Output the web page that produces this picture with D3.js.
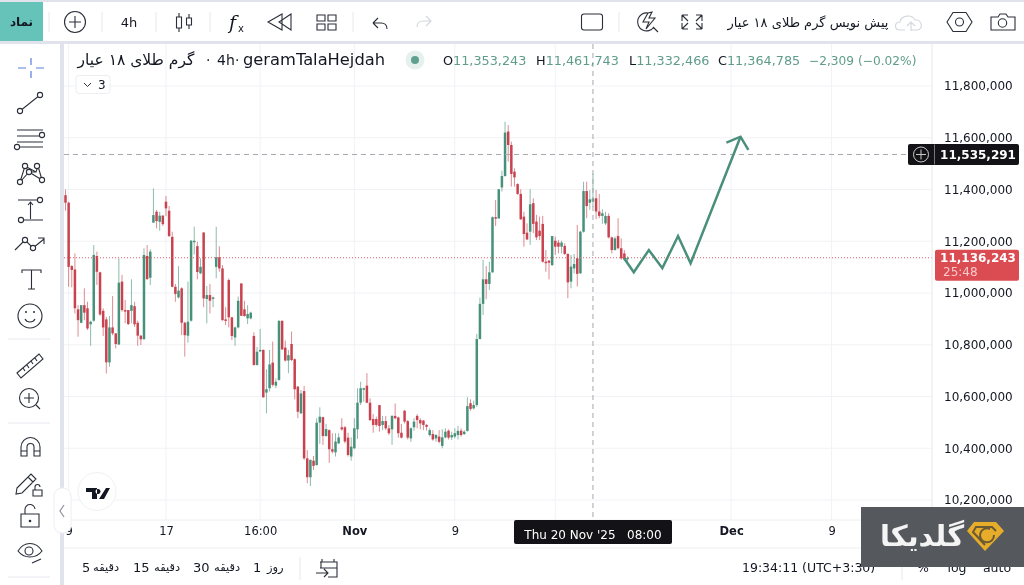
<!DOCTYPE html>
<html><head><meta charset="utf-8">
<script src="https://cdn.jsdelivr.net/npm/d3@7/dist/d3.min.js"></script>
<style>
html,body{margin:0;padding:0;background:#fff;overflow:hidden}
svg{display:block;filter:blur(0.4px)}
text{font-family:"DejaVu Sans",sans-serif;fill:#131722}
</style></head><body><svg id="c" width="1024" height="585"></svg>
<script>
// prices in thousands
const candleOpen=[11378,11349,11104,11091,10937,10885,10953,10941,10879,10893,
11143,11080,10931,10898,10732,10867,10844,10801,11044,10934,
10934,10931,10949,10885,10835,10822,11143,11059,11272,11314,
11275,11299,11353,11318,11217,11024,10983,11018,10885,10835,
10893,11199,11181,11076,11234,10977,10992,10980,11101,11138,
11095,10898,11050,10906,10828,10867,11037,10937,10902,10902,
10834,10722,10776,10780,10615,10632,10731,10642,10664,10892,
10789,10739,10803,10744,10638,10535,10621,10361,10288,10352,
10335,10499,10520,10447,10470,10396,10384,10419,10481,10481,
10441,10368,10400,10473,10576,10628,10642,10576,10513,10513,
10567,10490,10505,10477,10473,10525,10519,10460,10545,10505,
10438,10481,10525,10509,10507,10490,10451,10455,10438,10445,
10409,10442,10468,10442,10445,10451,10468,10455,10467,10574,
10554,10567,10822,10958,11053,11035,11080,11293,11288,11408,
11452,11624,11572,11469,11421,11383,11295,11233,11237,11347,
11276,11241,11267,11121,11125,11108,11202,11195,11179,11182,
11151,11044,11095,11134,11076,11237,11394,11349,11353,11366,
11315,11298,11269,11298,11215,11166,11220,11173,11153,11131];
const candleHigh=[11400,11353,11108,11153,10953,10953,11018,10966,10893,11185,
11160,11082,10941,10908,10911,10988,10844,11134,11070,10973,
10934,11053,10966,10893,10838,11173,11185,11169,11404,11321,
11314,11301,11375,11336,11237,11035,11104,11022,10889,11044,
11205,11256,11198,11134,11234,11027,11035,10986,11256,11181,
11108,10945,11056,10908,10870,10986,11037,10970,10953,10928,
10848,10792,10861,10782,10705,10780,10812,10670,10896,10896,
10816,10780,10851,10748,10641,10625,10641,10393,10357,10370,
10516,10558,10522,10494,10473,10458,10458,10458,10516,10486,
10460,10442,10516,10632,10657,10634,10690,10593,10532,10522,
10567,10525,10525,10490,10528,10573,10522,10494,10548,10509,
10481,10516,10532,10516,10509,10494,10477,10470,10455,10470,
10473,10477,10473,10464,10477,10486,10477,10470,10597,10589,
10584,10842,10983,11128,11104,11121,11296,11359,11401,11473,
11662,11649,11585,11482,11424,11401,11314,11269,11401,11366,
11302,11295,11298,11166,11128,11220,11218,11205,11202,11192,
11153,11147,11151,11263,11241,11430,11430,11398,11462,11398,
11383,11324,11314,11308,11218,11218,11289,11211,11166,11142];
const candleLow=[11318,11024,11022,10921,10831,10883,10895,10857,10796,10889,
11031,10912,10834,10689,10715,10837,10786,10799,10928,10883,
10876,10883,10869,10796,10799,10818,11050,11031,11272,11250,
11241,11259,11297,11217,11022,10966,10979,10837,10754,10808,
10889,11149,11053,11073,10945,10883,10921,10945,11057,11082,
10893,10876,10867,10818,10796,10863,10911,10909,10880,10898,
10719,10719,10773,10595,10535,10619,10638,10632,10661,10780,
10735,10690,10737,10589,10516,10532,10355,10265,10254,10316,
10333,10417,10413,10445,10344,10380,10368,10416,10468,10419,
10368,10352,10396,10436,10567,10580,10574,10505,10460,10483,
10464,10470,10470,10451,10413,10512,10441,10438,10496,10434,
10425,10468,10477,10473,10470,10468,10445,10429,10425,10419,
10400,10438,10434,10432,10438,10434,10445,10451,10464,10545,
10550,10560,10821,10915,10976,11012,11078,11259,11288,11392,
11450,11508,11411,11411,11379,11282,11179,11205,11186,11231,
11205,11205,11117,11082,11053,11104,11147,11153,11153,11147,
10980,11018,11076,11025,11074,11233,11289,11321,11332,11285,
11289,11267,11263,11211,11153,11164,11169,11128,11125,11120];
const candleClose=[11349,11101,11089,10941,10895,10953,10924,10863,10889,11147,
11082,10917,10867,10732,10867,10844,10803,11040,10934,10931,
10880,10953,10879,10835,10821,11147,11054,11160,11301,11278,
11299,11266,11327,11220,11024,10996,11009,10885,10837,10889,
11202,11202,11081,11101,10979,10992,10970,10983,11138,11095,
10895,10893,10906,10834,10867,10970,10912,10911,10919,10924,
10722,10773,10780,10597,10628,10724,10645,10657,10892,10782,
10739,10760,10741,10628,10541,10612,10361,10288,10355,10332,
10499,10522,10447,10474,10396,10387,10426,10442,10473,10426,
10374,10406,10477,10576,10632,10632,10576,10509,10490,10490,
10486,10505,10477,10458,10525,10516,10458,10441,10503,10441,
10477,10503,10509,10496,10490,10483,10470,10434,10451,10425,
10442,10464,10441,10451,10458,10467,10451,10464,10563,10552,
10567,10822,10958,11053,11035,11080,11293,11288,11401,11452,
11620,11572,11460,11447,11383,11285,11228,11207,11343,11267,
11215,11220,11121,11115,11117,11220,11179,11179,11195,11151,
11041,11102,11112,11074,11237,11394,11336,11362,11365,11315,
11298,11308,11298,11215,11166,11211,11173,11134,11131,11136];
const priceTicks=[10200,10400,10600,10800,11000,11200,11400,11600,11800];
const timeTickBars=[1,32,62,92,124,156,212,244,276];
const timeTickLabels=["9","17","16:00","Nov","9","","Dec","9",""];
const arrowBars=[177.9,181,185.8,190.1,195.1,199.1,215];
const arrowPrices=[11134,11080,11166,11096,11220,11115,11604];
const arrowHeadBars=[210.5,215,217.5];
const arrowHeadPrices=[11581,11604,11553];
const crossBar=168, crossPrice=11535.291, lastPrice=11136.243;
const legendValues=[["O","11,353,243"],["H","11,461,743"],["L","11,332,466"],["C","11,364,785"]];
const legendChange="−2,309 (−0.02%)";
const rangeButtons=[["5","دقیقه"],["15","دقیقه"],["30","دقیقه"],["1","روز"]];

const UP="#47917a",DOWN="#c8434f",INK="#2a2e39";
const svg=d3.select("#c");
const x=d3.scaleLinear().domain([0,179]).range([65.5,627.5]);
const y=d3.scaleLinear().domain([10200,11800]).range([500,86]);

// frame
svg.append("rect").attr("x",0).attr("y",0).attr("width",1024).attr("height",585).attr("fill","#fff");
const frame=[[0,0,1024,2],[0,41,1024,3],[60,44,4,541]];
svg.selectAll(null).data(frame).join("rect").attr("x",d=>d[0]).attr("y",d=>d[1]).attr("width",d=>d[2]).attr("height",d=>d[3]).attr("fill","#e0e3eb");
svg.append("rect").attr("x",0).attr("y",2).attr("width",43).attr("height",39).attr("fill","#66c3b9");
svg.append("text").attr("x",21.5).attr("y",26).attr("text-anchor","middle").attr("font-size",12).attr("font-weight","bold").text("نماد");

// grid
const plot=svg.append("g");
plot.selectAll(".gv").data(timeTickBars).join("line").attr("x1",d=>x(d)).attr("x2",d=>x(d)).attr("y1",44).attr("y2",520).attr("stroke","#f1f2f5");
plot.selectAll(".gh").data(priceTicks).join("line").attr("x1",64).attr("x2",932).attr("y1",d=>y(d)).attr("y2",d=>y(d)).attr("stroke","#f1f2f5");

// candles
const bars=d3.range(candleOpen.length);
const color=i=>candleClose[i]>=candleOpen[i]?UP:DOWN;
plot.selectAll(".w").data(bars).join("line").attr("x1",i=>x(i)).attr("x2",i=>x(i))
 .attr("y1",i=>y(candleHigh[i])).attr("y2",i=>y(candleLow[i])).attr("stroke",color).attr("stroke-width",1).attr("stroke-opacity",.62);
plot.selectAll(".b").data(bars).join("rect").attr("x",i=>x(i)-1.25).attr("width",2.5)
 .attr("y",i=>y(Math.max(candleOpen[i],candleClose[i])))
 .attr("height",i=>Math.max(1.5,Math.abs(y(candleOpen[i])-y(candleClose[i])))).attr("fill",color);

// price lines
plot.append("line").attr("x1",64).attr("x2",934).attr("y1",y(lastPrice)).attr("y2",y(lastPrice)).attr("stroke","#d9616a").attr("stroke-dasharray","1 2");
plot.append("line").attr("x1",64).attr("x2",908).attr("y1",y(crossPrice)).attr("y2",y(crossPrice)).attr("stroke","#a6a8b0").attr("stroke-dasharray","5 4");
plot.append("line").attr("x1",x(crossBar)).attr("x2",x(crossBar)).attr("y1",44).attr("y2",520).attr("stroke","#a6a8b0").attr("stroke-dasharray","5 4");

// drawn arrow
const ln=d3.line().x(d=>x(d[0])).y(d=>y(d[1]));
plot.append("path").attr("d",ln(d3.zip(arrowBars,arrowPrices))).attr("fill","none").attr("stroke","#4a8f7b").attr("stroke-width",2.5);
plot.append("path").attr("d",ln(d3.zip(arrowHeadBars,arrowHeadPrices))).attr("fill","none").attr("stroke","#4a8f7b").attr("stroke-width",2.5);

// axes
const ya=d3.axisRight(y).tickValues(priceTicks).tickFormat(d=>d3.format(",")(d*1000)).tickSize(0).tickPadding(0);
const gy=svg.append("g").attr("transform","translate(944,0)").call(ya);
gy.select(".domain").remove();
gy.selectAll("text").attr("font-size",12).attr("fill",INK).style("font-family","DejaVu Sans");
const xa=d3.axisBottom(x).tickValues(timeTickBars).tickFormat((d,i)=>timeTickLabels[i]).tickSize(0).tickPadding(0);
const gx=svg.append("g").attr("transform","translate(0,527)").call(xa);
gx.select(".domain").remove();
gx.selectAll("text").attr("font-size",11.5).attr("fill",INK).style("font-family","DejaVu Sans")
 .attr("font-weight",(d,i)=>timeTickLabels[i]=="Nov"||timeTickLabels[i]=="Dec"?"bold":"normal");
// cover clipped region left of chart
svg.append("rect").attr("x",0).attr("y",520).attr("width",64).attr("height",30).attr("fill","#fff");
svg.append("rect").attr("x",60).attr("y",520).attr("width",4).attr("height",30).attr("fill","#e0e3eb");
svg.selectAll(".sep").data([[64,520,1024,520],[64,548,1024,548],[932,44,932,520]]).join("line").attr("x1",d=>d[0]).attr("y1",d=>d[1]).attr("x2",d=>d[2]).attr("y2",d=>d[3]).attr("stroke","#eceef2");

// axis labels
function tag(px,py,w,h,fill){return svg.append("rect").attr("x",px).attr("y",py).attr("width",w).attr("height",h).attr("rx",2).attr("fill",fill);}
tag(514,520,158,24,"#131317");
svg.append("text").attr("x",593).attr("y",539).attr("text-anchor","middle").attr("font-size",12).attr("xml:space","preserve").style("fill","#fff").text("Thu 20 Nov '25   08:00");
const cy=y(crossPrice);
tag(908,cy-10.5,111,21,"#131317");
svg.append("line").attr("x1",934.5).attr("x2",934.5).attr("y1",cy-10).attr("y2",cy+10).attr("stroke","#777");
svg.append("circle").attr("cx",921).attr("cy",cy).attr("r",7.5).attr("fill","none").attr("stroke","#ccc");
svg.append("path").attr("d",`M916,${cy}H926M921,${cy-5}V${cy+5}`).attr("stroke","#ccc");
svg.append("text").attr("x",978).attr("y",cy+4.5).attr("text-anchor","middle").attr("font-size",12).attr("font-weight","bold").style("fill","#fff").text(d3.format(",")(Math.round(crossPrice*1000)));
const ly=y(lastPrice);
tag(935,ly-8,84,31,"#da4b52");
svg.append("text").attr("x",978).attr("y",ly+4).attr("text-anchor","middle").attr("font-size",12).attr("font-weight","bold").style("fill","#fff").text(d3.format(",")(Math.round(lastPrice*1000)));
svg.append("text").attr("x",943).attr("y",ly+18).attr("font-size",12).style("fill","#f7c9cc").text("25:48");

// legend
svg.append("text").attr("x",136).attr("y",65).attr("text-anchor","middle").attr("font-size",15.5).attr("direction","rtl").text("گرم طلای ۱۸ عیار");
svg.append("text").attr("x",206).attr("y",65).attr("font-size",14).text("·");
svg.append("text").attr("x",217).attr("y",65).attr("font-size",14).text("4h");
svg.append("text").attr("x",235).attr("y",65).attr("font-size",14).text("·");
svg.append("text").attr("x",243).attr("y",65).attr("font-size",16.3).text("geramTalaHejdah");
svg.append("circle").attr("cx",415).attr("cy",60).attr("r",9.5).attr("fill","#e6f0ed");
svg.append("circle").attr("cx",415).attr("cy",60).attr("r",4).attr("fill","#5fa18e");
const lx=[443,536,629,718];
legendValues.forEach((d,i)=>{
 const t=svg.append("text").attr("x",lx[i]).attr("y",65).attr("font-size",12.8);
 t.append("tspan").text(d[0]);
 t.append("tspan").style("fill","#5f9d8a").text(d[1]);
});
svg.append("text").attr("x",809).attr("y",65).attr("font-size",12.2).style("fill","#5f9d8a").text(legendChange);
svg.append("rect").attr("x",76).attr("y",75.5).attr("width",34).attr("height",18).attr("rx",3).attr("fill","#fff").attr("stroke","#eceef2");
svg.append("path").attr("d","M84,83l3.5,3.5l3.5,-3.5").attr("fill","none").attr("stroke",INK);
svg.append("text").attr("x",98).attr("y",89).attr("font-size",12).text("3");

// top toolbar
const sk=(d,c=INK,w=1.1)=>svg.append("path").attr("d",d).attr("fill","none").attr("stroke",c).attr("stroke-width",w);
svg.selectAll(".tsep").data([49,102,156,210,353,619]).join("line").attr("x1",d=>d).attr("x2",d=>d).attr("y1",12).attr("y2",32).attr("stroke","#e6e8ee");
svg.append("circle").attr("cx",75).attr("cy",22).attr("r",10.5).attr("fill","none").attr("stroke",INK).attr("stroke-width",1.1);
sk("M69,22H81M75,16V28");
svg.append("text").attr("x",129).attr("y",27).attr("text-anchor","middle").attr("font-size",13).attr("font-weight","500").text("4h");
sk("M176.5,17h5v11h-5zM179,13v4M179,28v4M186.5,18h5v7h-5zM189,14v4M189,25v4");
svg.append("text").attr("x",229).attr("y",29).attr("font-size",19).style("font-family","DejaVu Serif").attr("font-style","italic").text("f");
svg.append("text").attr("x",238).attr("y",32).attr("font-size",10).text("x");
sk("M282,14L268,22L282,30ZM291,14L279,22L291,30Z");
sk("M317,15h8v6h-8zM328,15h8v6h-8zM317,24h8v6h-8zM328,24h8v6h-8z");
sk("M373,23H381c4,0 6,2 6,6M373,23l5,-5M373,23l5,5");
sk("M431,21H423c-4,0 -6,2 -6,6M431,21l-5,-5M431,21l-5,5","#d3d6dd");
svg.append("rect").attr("x",581.5).attr("y",14).attr("width",21).attr("height",16).attr("rx",2.5).attr("fill","none").attr("stroke",INK).attr("stroke-width",1.1);
sk("M648,13a9,9 0 1 0 6,14M653,27l5,5M648,13l-5,9h6l-3,7l9,-11h-6l3,-6z");
sk("M682,15h6M682,15v6M682,15l6,6M702,15h-6M702,15v6M702,15l-6,6M682,29h6M682,29v-6M682,29l6,-6M702,29h-6M702,29v-6M702,29l-6,-6");
svg.append("text").attr("x",808).attr("y",27).attr("text-anchor","middle").attr("font-size",13).attr("direction","rtl").text("پیش نویس گرم طلای ۱۸ عیار");
sk("M905,30h-5c-6,0 -6,-8 0,-8c1,-7 12,-8 15,-2c7,-1 9,10 2,10h-6M911,31v-8M907,26l4,-4l4,4","#d3d6dd");
sk("M947,22l6,-9.5h13l6,9.5l-6,9.5h-13z");
svg.append("circle").attr("cx",959.5).attr("cy",22).attr("r",4).attr("fill","none").attr("stroke",INK).attr("stroke-width",1.1);
sk("M991,17h7l2,-3h6l2,3h7v13h-24z");
svg.append("circle").attr("cx",1002.5).attr("cy",23).attr("r",4.2).attr("fill","none").attr("stroke",INK).attr("stroke-width",1.1);

// left toolbar
sk("M31,58v7M31,71v7M18,68h8M36,68h8","#5a7fd6",1.2);
function dot(a,b){svg.append("circle").attr("cx",a).attr("cy",b).attr("r",2.6).attr("fill","#fff").attr("stroke",INK).attr("stroke-width",1.1);}
sk("M20,111L40,95");dot(20,111);dot(40,95);
sk("M17,130h26M17,136h24M17,142h26M17,147h26");dot(42,135);dot(17,147);
sk("M20,182L25,166L36,172L38,166L42,180M25,166L29,172L20,182M36,172L29,172L42,180");dot(20,182);dot(25,166);dot(37,166);dot(42,180);dot(29,172);
sk("M18,200h22M21,220h22M30.5,219V202M28,205l2.5,-3l2.5,3");dot(40,200);dot(21,220);
sk("M15,250L25,240L33,248L44,239M38,238h6v6");dot(25,240);dot(33,248);
sk("M22,273v-3h19v3M31.5,270V289M28,289h7");
svg.append("circle").attr("cx",30).attr("cy",316).attr("r",12).attr("fill","none").attr("stroke",INK).attr("stroke-width",1.1);
sk("M25,319c2,4 8,4 10,0");
svg.selectAll(".eye").data([26,34]).join("circle").attr("cx",d=>d).attr("cy",312).attr("r",1).attr("fill",INK);
svg.selectAll(".lsep").data([339,423,577]).join("line").attr("x1",8).attr("x2",50).attr("y1",d=>d).attr("y2",d=>d).attr("stroke","#e6e8ee");
sk("M17,373L39,354L43,359L21,378ZM23,368l2,3M27,365l2,3M31,361l2,3M35,358l2,3");
svg.append("circle").attr("cx",29).attr("cy",398).attr("r",9.5).attr("fill","none").attr("stroke",INK).attr("stroke-width",1.1);
sk("M24,398h10M29,393v10M36,405l4,4");
sk("M21,456V447a9.5,9.5 0 0 1 19,0V456h-6V447a3.5,3.5 0 0 0 -7,0V456ZM21,451h6M34,451h6");
sk("M17,488L31,474L36,479L22,493L16,494ZM28,477l5,5M33,490h9v6h-9zM35,490v-3a2.5,2.5 0 0 1 5,0");
sk("M21,514h18v13h-18zM25,514v-4a5,5 0 0 1 10,-1");
svg.append("circle").attr("cx",30).attr("cy",521).attr("r",1.3).attr("fill",INK);
sk("M18,551c6,-10 18,-10 24,0c-6,8 -18,8 -24,0z");
svg.append("circle").attr("cx",29).attr("cy",551).attr("r",4).attr("fill","none").attr("stroke",INK).attr("stroke-width",1.1);
sk("M32,563l9,-4");

// collapse tab, logo
svg.append("rect").attr("x",54).attr("y",488).attr("width",17).attr("height",45).attr("rx",8).attr("fill","#fff").attr("stroke","#eceef2");
sk("M64,505l-4,6l4,6","#9598a1",1.3);
svg.append("circle").attr("cx",97).attr("cy",491.5).attr("r",19).attr("fill","#fff").attr("stroke","#f0f1f3");
svg.append("path").attr("d","M86,488h11v11h-5v-7h-6zM98,489a2.5,2.5 0 1 0 0.01,0M106,488h4l-6,11h-5z").attr("fill","#131722");

// bottom toolbar
rangeButtons.forEach((d,i)=>{
 const xs=[[82,93],[133,154],[193,214],[253,267]][i];
 svg.append("text").attr("x",xs[0]).attr("y",572).attr("font-size",13).text(d[0]);
 svg.append("text").attr("x",xs[1]).attr("y",571).attr("font-size",11.5).text(d[1]);
});
svg.append("line").attr("x1",300).attr("x2",300).attr("y1",557).attr("y2",580).attr("stroke","#e6e8ee");
sk("M320,562h17v15h-9M321,562v6M322,559v3M334,559v3M320,568h17M316,573h12M324,569l4,4l-4,4");
svg.append("text").attr("x",742).attr("y",572).attr("font-size",12.5).text("19:34:11 (UTC+3:30)");
svg.append("line").attr("x1",902).attr("x2",902).attr("y1",557).attr("y2",580).attr("stroke","#e6e8ee");
svg.append("text").attr("x",923).attr("y",572).attr("text-anchor","middle").attr("font-size",12.5).text("%");
svg.append("text").attr("x",957).attr("y",572).attr("text-anchor","middle").attr("font-size",12.5).text("log");
svg.append("text").attr("x",997).attr("y",572).attr("text-anchor","middle").attr("font-size",12.5).text("auto");

// watermark
svg.append("rect").attr("x",861).attr("y",507).attr("width",163).attr("height",60).attr("fill","#55595e");
svg.append("path").attr("d","M974,522h22l8,9l-19,20l-18,-20z").attr("fill","#e7ad2a");
svg.append("path").attr("d","M985,545l-12,-13l3,-5h16l4,4M994,535a7,7 0 1 1 -4,-6").attr("fill","none").attr("stroke","#6b5a33").attr("stroke-width",2);
svg.append("text").attr("x",922).attr("y",546).attr("text-anchor","middle").attr("font-size",29).attr("font-weight","bold").attr("direction","rtl").style("fill","#f4f4f4").text("گلدیکا");
</script></body></html>
